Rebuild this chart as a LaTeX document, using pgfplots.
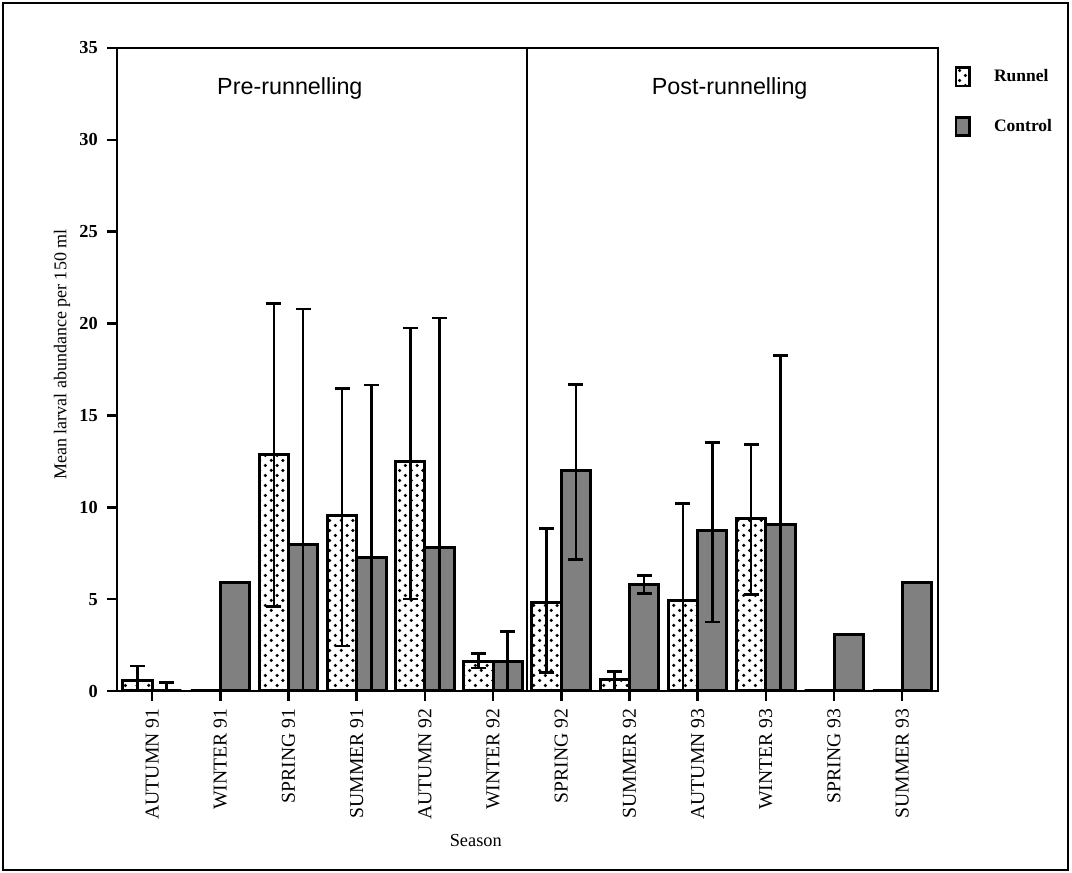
\documentclass[border=0pt]{standalone}
\usepackage{pgfplots}
\pgfplotsset{compat=1.18}
\usepackage{pgfplotstable}
\usepackage{fontspec}
\setmainfont{Liberation Serif}
\newfontfamily\sansf{Liberation Sans}
\usetikzlibrary{patterns}
\pgfdeclarepatternformonly{bigdots}{\pgfpoint{-1pt}{-1pt}}{\pgfpoint{8pt}{7pt}}{\pgfpoint{7pt}{6pt}}{%
  \pgfpathcircle{\pgfpoint{1.75pt}{1.5pt}}{1.05pt}%
  \pgfpathcircle{\pgfpoint{5.25pt}{4.5pt}}{1.05pt}%
  \pgfusepath{fill}}

\pgfplotstableread{
x  r     rp    rm    c     cp    cm
0  0.56  0.80  0.56  0     0.45  0
1  0     0     0     5.9   0     0
2  12.9  8.2   8.3   8.0   12.8  8.0
3  9.55  6.9   7.1   7.25  9.4   7.25
4  12.5  7.25  7.5   7.8   12.5  7.8
5  1.6   0.45  0.35  1.6   1.65  1.6
6  4.8   4.05  3.8   12.0  4.7   4.85
7  0.6   0.45  0.6   5.82  0.47  0.5
8  4.92  5.3   4.92  8.76  4.75  5.0
9  9.4   4.0   4.15  9.05  9.2   9.05
10 0     0     0     3.1   0     0
11 0     0     0     5.9   0     0
}\data

\begin{document}
\begin{tikzpicture}
\useasboundingbox (-70.2pt,-109.2pt) rectangle (573pt,414.6pt);
\draw[line width=1.2pt] (-68.4pt,-107.4pt) rectangle (570.6pt,412.8pt);
\begin{axis}[
  at={(0,0)}, anchor=south west,
  scale only axis, width=492.6pt, height=385.8pt,
  xmin=-0.515, xmax=11.525, ymin=0, ymax=35,
  axis line style={line width=1.6pt},
  xtick={0,...,11},
  xticklabels={AUTUMN 91, WINTER 91, SPRING 91, SUMMER 91, AUTUMN 92, WINTER 92, SPRING 92, SUMMER 92, AUTUMN 93, WINTER 93, SPRING 93, SUMMER 93},
  ytick={0,5,...,35},
  xtick pos=lower, ytick pos=left,
  tick align=outside, major tick length=6pt,
  tick style={line width=1.5pt, black},
  xticklabel style={rotate=90, anchor=east, font=\fontsize{11.8}{13}\selectfont, xshift=-1pt},
  yticklabel style={font=\bfseries\fontsize{11}{12}\selectfont, /pgf/number format/assume math mode=true, xshift=-2pt},
  ylabel={Mean larval abundance per 150 ml},
  ylabel style={at={(axis description cs:-0.067,0.523)}, anchor=center, font=\fontsize{10.8}{12}\selectfont},
  xlabel={Season},
  xlabel style={at={(axis description cs:0.437,-0.232)}, anchor=center, font=\fontsize{11}{12}\selectfont},
  clip=false,
  legend style={at={(axis description cs:1.020,0.972)}, anchor=north west, draw=none, fill=none, inner sep=0pt,
    font=\bfseries\fontsize{10.5}{12}\selectfont, row sep=17pt,
    /tikz/every odd column/.append style={column sep=12pt}},
  legend cell align=left,
  myleg/.style={legend image code/.code={\draw[##1,/tikz/.cd,line width=1.6pt] (0pt,-5.5pt) rectangle (8pt,5.5pt);}},
  errs/.style={forget plot, draw=none, no markers,
    restrict expr to domain={\thisrow{#1}}{0.01:100},
    error bars/.cd, y dir=both, y explicit,
    error bar style={draw=black, line width=1.6pt},
    error mark options={rotate=90, draw=black, line width=1.6pt, mark size=4.5pt}},
]
\addplot[ybar, myleg, bar width=0.43, bar shift=-0.215, draw=black, line width=1.8pt, pattern=bigdots]
  table[x=x, y=r]{\data};
\addplot[ybar, myleg, bar width=0.43, bar shift=0.215, draw=black, line width=1.8pt, fill=black!50]
  table[x=x, y=c]{\data};
\legend{Runnel, Control}
\addplot[errs=rp] table[x expr=\thisrow{x}-0.215, y=r, y error plus=rp, y error minus=rm]{\data};
\addplot[errs=cp] table[x expr=\thisrow{x}+0.215, y=c, y error plus=cp, y error minus=cm]{\data};
\draw[line width=1.6pt] (axis cs:5.5,0) -- (axis cs:5.5,35);
\node[font=\sansf\fontsize{14}{16}\selectfont] at (axis cs:2.02,32.8) {Pre-runnelling};
\node[font=\sansf\fontsize{14}{16}\selectfont] at (axis cs:8.47,32.8) {Post-runnelling};
\end{axis}
\end{tikzpicture}
\end{document}
